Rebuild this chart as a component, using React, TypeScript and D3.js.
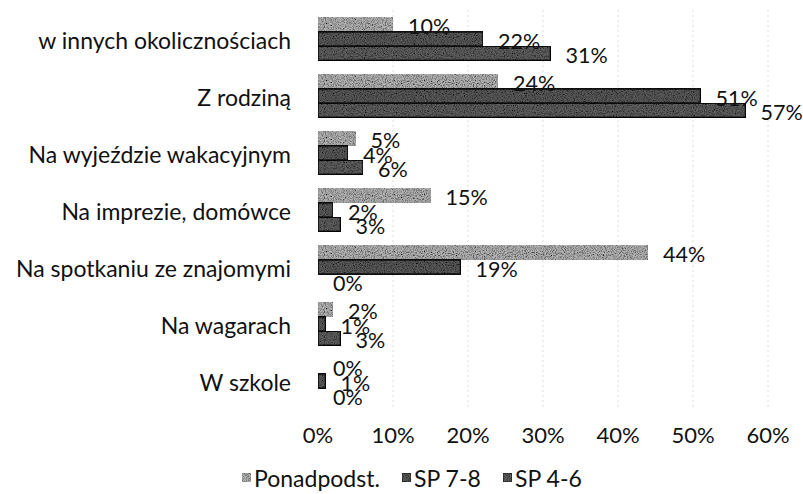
import React, { useEffect, useRef } from "react";
import * as d3 from "d3";

const categories = [
  "w innych okolicznościach",
  "Z rodziną",
  "Na wyjeździe wakacyjnym",
  "Na imprezie, domówce",
  "Na spotkaniu ze znajomymi",
  "Na wagarach",
  "W szkole",
];
const seriesNames = ["Ponadpodst.", "SP 7-8", "SP 4-6"];
const ponadpodst = [10, 24, 5, 15, 44, 2, 0];
const sp78 = [22, 51, 4, 2, 19, 1, 1];
const sp46 = [31, 57, 6, 3, 0, 3, 0];
const xTicks = [0, 10, 20, 30, 40, 50, 60];

const W = 803;
const H = 494;
const FONT = "Lato, 'Open Sans', sans-serif";

export default function App() {
  const ref = useRef<SVGSVGElement | null>(null);

  useEffect(() => {
    const svg = d3.select(ref.current);
    svg.selectAll("*").remove();

    const seriesValues = [ponadpodst, sp78, sp46];
    const fills = ["#b4b4b4", "#5a5a5a", "#5e5e5e"];
    const strokes = ["#9a9a9a", "#111111", "#111111"];

    const defs = svg.append("defs");
    const filt = defs.append("filter").attr("id", "grain").attr("x", 0).attr("y", 0).attr("width", 1).attr("height", 1);
    filt.append("feTurbulence").attr("type", "fractalNoise").attr("baseFrequency", 0.9).attr("numOctaves", 2).attr("seed", 3).attr("result", "noise");
    filt.append("feColorMatrix").attr("in", "noise").attr("type", "matrix")
      .attr("values", "0 0 0 0 0  0 0 0 0 0  0 0 0 0 0  0 0 0 2.2 -0.85").attr("result", "dots");
    filt.append("feComposite").attr("in", "dots").attr("in2", "SourceGraphic").attr("operator", "in").attr("result", "dm");
    const merge = filt.append("feMerge");
    merge.append("feMergeNode").attr("in", "SourceGraphic");
    merge.append("feMergeNode").attr("in", "dm");

    const x = d3.scaleLinear().domain([0, 60]).range([318, 768]);
    const y = d3.scaleBand<string>().domain(categories).range([10.5, 409.5]).paddingInner(0.25).paddingOuter(0.125);
    const inner = d3.scaleBand<number>().domain([0, 1, 2]).range([0, y.bandwidth()]);

    // gridlines
    svg.append("g")
      .selectAll("line")
      .data(xTicks.slice(1))
      .join("line")
      .attr("x1", (d) => x(d))
      .attr("x2", (d) => x(d))
      .attr("y1", 10)
      .attr("y2", 410)
      .attr("stroke", "#dcdcdc")
      .attr("stroke-width", 1)
      .attr("stroke-dasharray", "2,3");

    // bars
    const groups = svg.append("g").selectAll("g")
      .data(categories)
      .join("g")
      .attr("transform", (c) => `translate(0,${y(c)})`);

    groups.each(function (c, ci) {
      const g = d3.select(this);
      seriesValues.forEach((vals, si) => {
        const v = vals[ci];
        if (v > 0) {
          g.append("rect")
            .attr("x", x(0))
            .attr("y", inner(si)!)
            .attr("width", x(v) - x(0))
            .attr("height", inner.bandwidth())
            .attr("fill", fills[si])
            .attr("stroke", strokes[si])
            .attr("stroke-width", si === 0 ? 0.6 : 1.6)
            .attr("filter", "url(#grain)");
        }
      });
      seriesValues.forEach((vals, si) => {
        const v = vals[ci];
        g.append("text")
          .attr("x", x(v) + 15)
          .attr("y", inner(si)! + inner.bandwidth() / 2 + 1.5)
          .attr("dominant-baseline", "central")
          .attr("font-family", FONT)
          .attr("font-size", 21.5)
          .attr("fill", "#111")
          .text(`${v}%`);
      });
    });

    // category labels
    svg.append("g")
      .selectAll("text")
      .data(categories)
      .join("text")
      .attr("x", 291)
      .attr("y", (c) => y(c)! + y.bandwidth() / 2 + 1)
      .attr("text-anchor", "end")
      .attr("dominant-baseline", "central")
      .attr("font-family", FONT)
      .attr("font-size", 23)
      .attr("fill", "#111")
      .text((c) => c);

    // x tick labels
    svg.append("g")
      .selectAll("text")
      .data(xTicks)
      .join("text")
      .attr("x", (d) => x(d))
      .attr("y", 434)
      .attr("text-anchor", "middle")
      .attr("dominant-baseline", "central")
      .attr("font-family", FONT)
      .attr("font-size", 22)
      .attr("fill", "#111")
      .text((d) => `${d}%`);

    // legend
    const legendX = [242, 402, 503];
    const lg = svg.append("g").selectAll("g")
      .data(seriesNames)
      .join("g")
      .attr("transform", (_, i) => `translate(${legendX[i]},478)`);
    lg.append("rect")
      .attr("x", 0)
      .attr("y", -5)
      .attr("width", 9)
      .attr("height", 9)
      .attr("fill", (_, i) => fills[i])
      .attr("stroke", (_, i) => strokes[i])
      .attr("stroke-width", 0.8)
      .attr("filter", "url(#grain)");
    lg.append("text")
      .attr("x", 12)
      .attr("y", 0)
      .attr("dominant-baseline", "central")
      .attr("font-family", FONT)
      .attr("font-size", 23)
      .attr("fill", "#111")
      .text((d) => d);
  }, []);

  return (
    <svg
      ref={ref}
      width={W}
      height={H}
      style={{ position: "absolute", left: 0, top: 0, background: "#fff" }}
    />
  );
}
